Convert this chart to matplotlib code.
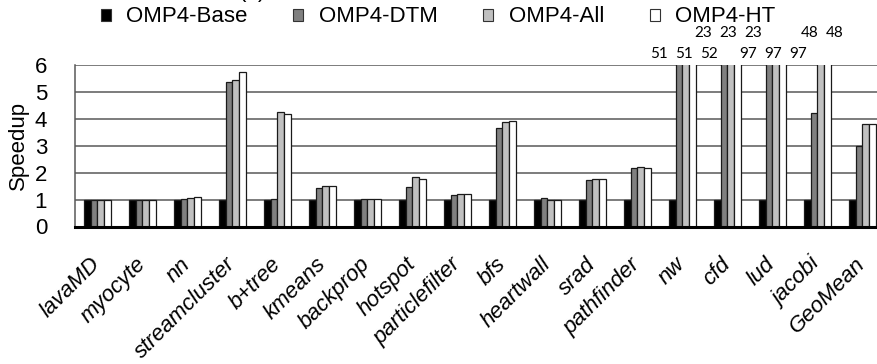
import numpy as np
import matplotlib
matplotlib.use("Agg")
import matplotlib.pyplot as plt
from matplotlib.patches import Patch

plt.rcParams['font.family'] = ['Liberation Sans', 'DejaVu Sans']

benchmarks = ["lavaMD", "myocyte", "nn", "streamcluster", "b+tree", "kmeans",
              "backprop", "hotspot", "particlefilter", "bfs", "heartwall", "srad",
              "pathfinder", "nw", "cfd", "lud", "jacobi", "GeoMean"]

series_names = ["OMP4-Base", "OMP4-DTM", "OMP4-All", "OMP4-HT"]

omp4_base = [1, 1, 1, 1, 1, 1, 1, 1, 1, 1, 1, 1, 1, 1, 1, 1, 1, 1]
omp4_dtm = [1.0, 1.0, 1.03, 5.37, 1.03, 1.43, 1.03, 1.48, 1.16, 3.64, 1.05, 1.72,
            2.16, 51, 23, 97, 4.2, 2.97]
omp4_all = [1.0, 1.0, 1.05, 5.42, 4.23, 1.52, 1.03, 1.84, 1.21, 3.88, 0.98, 1.77,
            2.22, 51, 23, 97, 48, 3.81]
omp4_ht = [1.0, 1.0, 1.08, 5.74, 4.18, 1.52, 1.02, 1.76, 1.21, 3.90, 1.0, 1.77,
           2.16, 52, 23, 97, 48, 3.81]

y_ticks = [0, 1, 2, 3, 4, 5, 6]
y_max = 6

series = [omp4_base, omp4_dtm, omp4_all, omp4_ht]
colors = ["#000000", "#808080", "#c0c0c0", "#ffffff"]

fig = plt.figure(figsize=(8.78, 3.64), dpi=100)
ax = fig.add_axes([75 / 878, 137.5 / 364, 803 / 878, 161.8 / 364])

x = np.arange(len(benchmarks))
w = 0.149
grid_col = "#595959"

bar_centers = []
for j, (vals, col) in enumerate(zip(series, colors)):
    xs = x + (j - 1.5) * w
    bar_centers.append(xs)
    ax.bar(xs, vals, width=w, color=col, edgecolor="#1a1a1a", linewidth=0.9,
           zorder=3)

ax.set_xlim(-0.498, 17.35)
ax.set_ylim(0, y_max)
ax.set_yticks(y_ticks)
ax.set_yticklabels([str(t) for t in y_ticks], fontsize=16)
ax.tick_params(axis="y", length=0, pad=20)
ax.set_axisbelow(True)
ax.yaxis.grid(True, color=grid_col, linewidth=1.1)

ax.set_xticks(x)
ax.set_xticklabels(benchmarks, rotation=45, ha="right", va="center",
                   rotation_mode="anchor", fontsize=16, style="italic")
ax.tick_params(axis="x", length=0, pad=25)

for s in ["top", "right"]:
    ax.spines[s].set_visible(False)
ax.spines["left"].set_color(grid_col)
ax.spines["left"].set_linewidth(1.1)
ax.spines["bottom"].set_color("black")
ax.spines["bottom"].set_linewidth(2.2)
ax.spines["bottom"].set_zorder(4)

ax.set_ylabel("Speedup", fontsize=16, labelpad=4)

# values of bars that run past the top of the axis, written above it
rows = [8, 23]
k = 0
for i in range(len(benchmarks)):
    clipped = [(bar_centers[j][i], series[j][i]) for j in range(4)
               if series[j][i] > y_max]
    if not clipped:
        continue
    mid = np.mean([c[0] for c in clipped])
    n = len(clipped)
    for m, (_, v) in enumerate(clipped):
        dx = (m - (n - 1) / 2) * 18.0 - 1.5
        ax.annotate(f"{v:g}", xy=(mid, y_max), xytext=(dx, rows[k % 2]),
                    textcoords="offset points", ha="center", va="center",
                    fontsize=11, family=["Lato", "DejaVu Sans"],
                    annotation_clip=False)
    k += 1

handles = [Patch(facecolor=c, edgecolor="#333333", linewidth=0.8) for c in colors]
fig.legend(handles, series_names, loc="center", ncol=4,
           bbox_to_anchor=(438 / 878, 1 - 17 / 364), frameon=False,
           fontsize=16, handlelength=0.45, handleheight=0.45,
           handletextpad=0.7, columnspacing=2.05, borderpad=0)

fig.text(252 / 878, 1 + 3 / 364, "(a)", ha="center", va="baseline", fontsize=16)

fig.savefig("out.png", dpi=100)
